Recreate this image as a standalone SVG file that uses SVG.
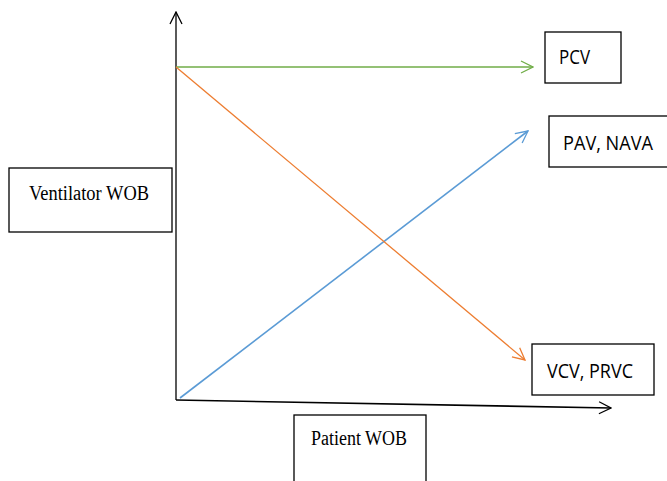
<svg xmlns="http://www.w3.org/2000/svg" width="667" height="481" viewBox="0 0 667 481">
<defs>
<marker id="ah" viewBox="0 0 14 14" refX="13" refY="7" markerWidth="14" markerHeight="14" markerUnits="userSpaceOnUse" orient="auto">
<path d="M1,1 L13,7 L1,13" fill="none" stroke="context-stroke" stroke-width="1.3"/>
</marker>
<style>
.box{fill:#fff;stroke:#000;stroke-width:1.3}
.serif{font-family:"Liberation Serif",serif;font-size:20px;fill:#000}
.sans{font-family:"Open Sans","Liberation Sans",sans-serif;font-size:20px;fill:#000}
</style>
</defs>
<rect width="667" height="481" fill="#fff"/>
<g id="connectors" fill="none" stroke-width="1.3">
<line x1="176" y1="400" x2="176" y2="12" stroke="#000" marker-end="url(#ah)"/>
<line x1="176" y1="400" x2="611" y2="408" stroke="#000" stroke-width="1.6" marker-end="url(#ah)"/>
<line x1="176" y1="67" x2="533" y2="67" stroke="#70ad47" marker-end="url(#ah)"/>
<line x1="180" y1="398" x2="528" y2="131" stroke="#5b9bd5" stroke-width="1.6" marker-end="url(#ah)"/>
<line x1="176" y1="67" x2="525" y2="360" stroke="#ed7d31" marker-end="url(#ah)"/>
</g>
<g id="ventilator-wob">
<rect class="box" x="9" y="168" width="163" height="64"/>
<text class="serif" x="29" y="200" textLength="120" lengthAdjust="spacingAndGlyphs">Ventilator WOB</text>
</g>
<g id="patient-wob">
<rect class="box" x="294" y="415" width="132" height="80"/>
<text class="serif" x="311" y="445" textLength="96" lengthAdjust="spacingAndGlyphs">Patient WOB</text>
</g>
<g id="pcv">
<rect class="box" x="545" y="32" width="76" height="51"/>
<text class="sans" x="559" y="64" textLength="31" lengthAdjust="spacingAndGlyphs">PCV</text>
</g>
<g id="pav-nava">
<rect class="box" x="549" y="116" width="125" height="51"/>
<text class="sans" x="563" y="150" textLength="90" lengthAdjust="spacingAndGlyphs">PAV, NAVA</text>
</g>
<g id="vcv-prvc">
<rect class="box" x="532" y="344" width="122" height="51"/>
<text class="sans" x="547" y="378" textLength="86" lengthAdjust="spacingAndGlyphs">VCV, PRVC</text>
</g>
</svg>
